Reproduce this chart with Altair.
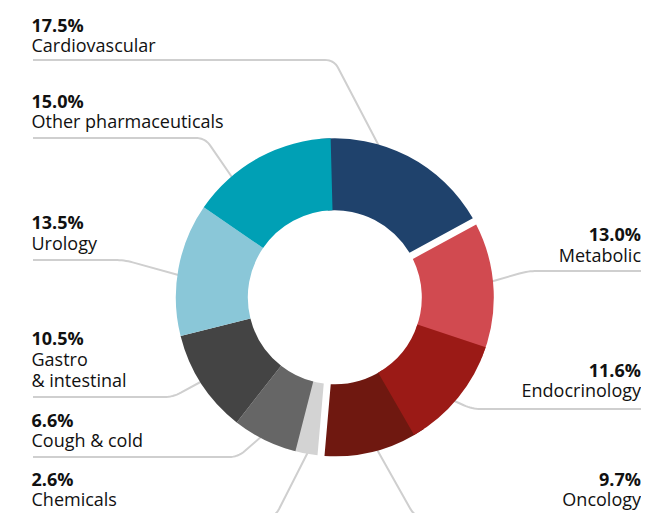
import math
import altair as alt
import pandas as pd

# ---- data (clockwise from 12 o'clock) ----
categories = ["Cardiovascular", "Metabolic", "Endocrinology", "Oncology", "Chemicals",
              "Cough & cold", "Gastro & intestinal", "Urology", "Other pharmaceuticals"]
shares = [17.5, 13.0, 11.6, 9.7, 2.6, 6.6, 10.5, 13.5, 15.0]
pct_labels = ["17.5%", "13.0%", "11.6%", "9.7%", "2.6%", "6.6%", "10.5%", "13.5%", "15.0%"]
name_labels = ["Cardiovascular", "Metabolic", "Endocrinology", "Oncology", "Chemicals",
               "Cough & cold", "Gastro\n& intestinal", "Urology", "Other pharmaceuticals"]
colors = ["#1f426c", "#d14a50", "#9b1a16", "#6f1810", "#d3d3d3",
          "#666666", "#444444", "#8ac7d8", "#00a0b5"]
# boundaries that are drawn with a white gap
gap_pairs = [("Cardiovascular", "Metabolic"), ("Oncology", "Chemicals")]

# ---- layout (page pixel coordinates) ----
CX, CY = 334.8, 297.3
R_OUT, R_IN = 159, 87
START_DEG = -1.5
label_side = {"Cardiovascular": "L", "Other pharmaceuticals": "L", "Urology": "L",
              "Gastro & intestinal": "L", "Cough & cold": "L", "Chemicals": "L",
              "Metabolic": "R", "Endocrinology": "R", "Oncology": "R"}
label_y = {  # (percent baseline, name baseline)
    "Cardiovascular": (32, 52.3), "Other pharmaceuticals": (108.3, 128.3),
    "Urology": (229.3, 249.8), "Gastro & intestinal": (344.5, 365.5), "Cough & cold": (426.7, 446.8),
    "Chemicals": (486, 506.3), "Metabolic": (241, 261.5), "Endocrinology": (376.7, 396.7),
    "Oncology": (485.5, 505.8)}
LEFT_X, RIGHT_X = 31.5, 641
leaders = {
    "Cardiovascular": [(33, 60), (334, 60), (380, 148)],
    "Other pharmaceuticals": [(33, 138), (205, 138), (236, 183)],
    "Urology": [(33, 260), (124, 260), (182, 276)],
    "Gastro & intestinal": [(33, 397), (173, 397), (206, 379)],
    "Cough & cold": [(33, 457), (238, 457), (262, 436)],
    "Chemicals": [(33, 517), (275, 517), (309, 450)],
    "Oncology": [(644, 517), (415, 517), (375, 446)],
    "Metabolic": [(644, 271), (528, 271), (490, 282)],
    "Endocrinology": [(644, 409), (472, 409), (450, 399)],
}

W, H = 633, 505
FONT = "Open Sans"


def fillet(pts, r=9, n=8):
    p0, c, p2 = pts
    def unit(a, b):
        dx, dy = b[0] - a[0], b[1] - a[1]
        d = math.hypot(dx, dy)
        return dx / d, dy / d
    u1 = unit(c, p0)
    u2 = unit(c, p2)
    a = (c[0] + u1[0] * r, c[1] + u1[1] * r)
    b = (c[0] + u2[0] * r, c[1] + u2[1] * r)
    out = [p0]
    for i in range(n + 1):
        t = i / n
        x = (1 - t) ** 2 * a[0] + 2 * (1 - t) * t * c[0] + t ** 2 * b[0]
        y = (1 - t) ** 2 * a[1] + 2 * (1 - t) * t * c[1] + t ** 2 * b[1]
        out.append((x, y))
    out.append(p2)
    return out


# ---- arcs ----
starts, ends = [], []
acc = 0.0
for s in shares:
    starts.append(acc)
    acc += s
    ends.append(acc)

gap_cats = set()
for a, b in gap_pairs:
    gap_cats.update([a, b])

EXT = 1.5
rows_pad, rows_plain = [], []
for i, c in enumerate(categories):
    prev_c = categories[i - 1]
    next_c = categories[(i + 1) % len(categories)]
    t0, t1 = starts[i], ends[i]
    if c in gap_cats:
        if (prev_c, c) not in gap_pairs:
            t0 -= EXT
        if (c, next_c) not in gap_pairs:
            t1 += EXT
        rows_pad.append({"cat": c, "t0": t0, "t1": t1})
    else:
        rows_plain.append({"cat": c, "t0": t0, "t1": t1})

a0 = 2 * math.pi + math.radians(START_DEG)
theta_scale = alt.Scale(domain=[0, 100], range=[a0, a0 + 2 * math.pi])
color_scale = alt.Scale(domain=categories, range=colors)


def arc_layer(rows, pad):
    kw = dict(innerRadius=R_IN, outerRadius=R_OUT)
    if pad:
        kw["padAngle"] = 2 * math.asin(3.5 / math.hypot(R_IN, R_OUT))
    return alt.Chart(pd.DataFrame(rows)).mark_arc(**kw).encode(
        theta=alt.Theta("t0:Q", scale=theta_scale, stack=None),
        theta2=alt.Theta2("t1:Q"),
        color=alt.Color("cat:N", scale=color_scale, legend=None),
        x=alt.value(CX - 8),
        y=alt.value(CY - 8),
    )


xs = alt.Scale(domain=[8, 8 + W], nice=False, zero=False)
ys = alt.Scale(domain=[8, 8 + H], nice=False, zero=False, reverse=True)

# ---- leader lines ----
lrows = []
for c, pts in leaders.items():
    for k, (x, y) in enumerate(fillet(pts)):
        lrows.append({"cat": c, "k": k, "x": x, "y": y})
lines = alt.Chart(pd.DataFrame(lrows)).mark_line(
    color="#cfcfcf", strokeWidth=2, strokeJoin="round", strokeCap="butt"
).encode(
    x=alt.X("x:Q", scale=xs, axis=None),
    y=alt.Y("y:Q", scale=ys, axis=None),
    detail="cat:N",
    order="k:Q",
)

# ---- labels ----
trows = []
for i, c in enumerate(categories):
    side = label_side[c]
    py, ny = label_y[c]
    trows.append({"side": side, "x": LEFT_X if side == "L" else RIGHT_X, "y": py,
                  "txt": pct_labels[i], "w": "b"})
    trows.append({"side": side, "x": LEFT_X if side == "L" else RIGHT_X, "y": ny,
                  "txt": name_labels[i], "w": "n"})
tdf = pd.DataFrame(trows)


def text_layer(side, w):
    return alt.Chart(tdf).transform_filter(
        (alt.datum.side == side) & (alt.datum.w == w)
    ).mark_text(
        align="left" if side == "L" else "right",
        baseline="alphabetic",
        font=FONT,
        fontSize=18,
        fontWeight="bold" if w == "b" else "normal",
        color="#111111",
        lineBreak="\n",
        lineHeight=21,
    ).encode(
        x=alt.X("x:Q", scale=xs, axis=None),
        y=alt.Y("y:Q", scale=ys, axis=None),
        text="txt:N",
    )


chart = alt.layer(
    lines,
    arc_layer(rows_pad, True),
    arc_layer(rows_plain, False),
    text_layer("L", "b"), text_layer("L", "n"),
    text_layer("R", "b"), text_layer("R", "n"),
).properties(
    width=W, height=H, padding=0, background="white",
    autosize=alt.AutoSizeParams(type="none"),
).configure_view(stroke=None)

chart.save("out.html", embed_options={"renderer": "svg", "actions": False})
